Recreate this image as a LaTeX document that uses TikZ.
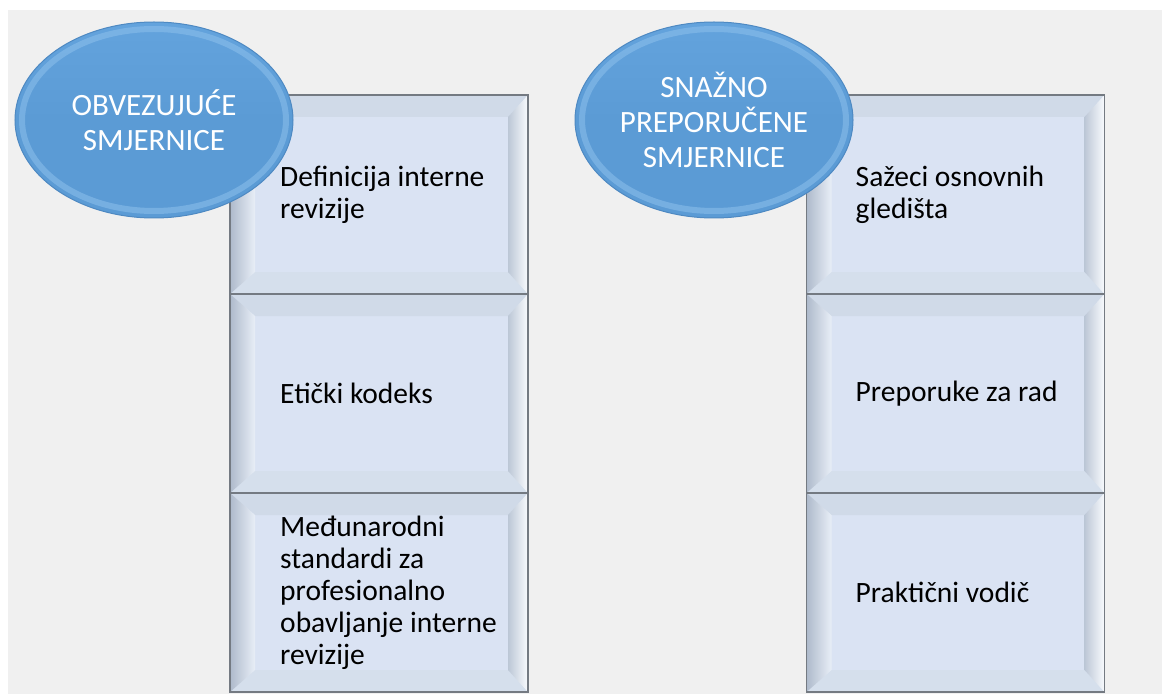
\documentclass[tikz,border=0pt]{standalone}
\usepackage{fontspec}
\setmainfont{Carlito}
\usepackage{xcolor}
\usepackage{tikz}
\usetikzlibrary{positioning}
\usetikzlibrary{shapes.geometric}
\definecolor{bgcolor}{HTML}{F0F0F0}
\definecolor{facecolor}{HTML}{DAE3F3}
\definecolor{boxline}{HTML}{747A82}
\definecolor{bevtop}{HTML}{D0DAE8}
\definecolor{bevbottom}{HTML}{D5DFEC}
\definecolor{bevleftout}{HTML}{AEBACB}
\definecolor{bevleftin}{HTML}{E8EEF7}
\definecolor{bevrightout}{HTML}{F9FBFE}
\definecolor{bevrightin}{HTML}{BCC7D6}
\definecolor{ovalfill}{HTML}{5B9BD5}
\definecolor{ovaltop}{HTML}{63A3DD}
\definecolor{ovalrim}{HTML}{8DC0EC}
\definecolor{ovalline}{HTML}{4E89C2}

\tikzset{
  bevelbox/.style={draw=boxline, line width=1.2pt, fill=facecolor,
    minimum width=298pt, minimum height=199pt, inner sep=0pt, outer sep=0pt,
    path picture={
      \coordinate (nw) at (path picture bounding box.north west);
      \coordinate (ne) at (path picture bounding box.north east);
      \coordinate (sw) at (path picture bounding box.south west);
      \coordinate (se) at (path picture bounding box.south east);
      \fill[bevtop] (nw) -- (ne) -- ([xshift=-20pt,yshift=-22pt]ne) -- ([xshift=25pt,yshift=-22pt]nw) -- cycle;
      \fill[bevbottom] (sw) -- (se) -- ([xshift=-20pt,yshift=22pt]se) -- ([xshift=25pt,yshift=22pt]sw) -- cycle;
      \shade[left color=bevleftout, right color=bevleftin] (nw) -- ([xshift=25pt,yshift=-22pt]nw) -- ([xshift=25pt,yshift=22pt]sw) -- (sw) -- cycle;
      \shade[left color=bevrightin, right color=bevrightout] (ne) -- ([xshift=-20pt,yshift=-22pt]ne) -- ([xshift=-20pt,yshift=22pt]se) -- (se) -- cycle;
    }},
  boxtext/.style={align=left, inner sep=0pt, text=black,
    font=\fontsize{29.5}{32}\selectfont},
  oval/.style={ellipse, draw=ovalline, line width=1pt,
    top color=ovaltop, bottom color=ovalfill, middle color=ovalfill,
    minimum width=278pt, minimum height=196pt, inner sep=0pt,
    align=center, text=white, font=\fontsize{31}{35}\selectfont,
    path picture={
      \draw[ovalrim, opacity=0.55, line width=6pt] (path picture bounding box.center) ellipse (132pt and 91pt);
    }}
}

\begin{document}
\begin{tikzpicture}[x=1pt,y=-1pt]
  \useasboundingbox (0,0) rectangle (1162,695);
  \fill[white] (0,0) rectangle (1162,695);
  \fill[bgcolor] (8,10) rectangle (1162,694);

  % left column
  \node[bevelbox] (d1) at (379,194.5) {};
  \node[bevelbox, below=0pt of d1] (d2) {};
  \node[bevelbox, below=0pt of d2] (d3) {};
  \node[boxtext, right=50pt of d1.west] (dt1) {Definicija interne\\revizije};
  \node[boxtext, right=50pt of d2.west] (dt2) {Etički kodeks};
  \node[boxtext, right=50pt of d3.west] (dt3) {Međunarodni\\standardi za\\profesionalno\\obavljanje interne\\revizije};
  \node[oval] (o1) at (154,120) {OBVEZUJUĆE\\SMJERNICE};

  % right column
  \node[bevelbox] (p1) at (955.5,194.5) {};
  \node[bevelbox, below=0pt of p1] (p2) {};
  \node[bevelbox, below=0pt of p2] (p3) {};
  \node[boxtext, right=49pt of p1.west] (pt1) {Sažeci osnovnih\\gledišta};
  \node[boxtext, right=49pt of p2.west] (pt2) {Preporuke za rad};
  \node[boxtext, right=49pt of p3.west] (pt3) {Praktični vodič};
  \node[oval] (o2) at (714,120) {SNAŽNO\\PREPORUČENE\\SMJERNICE};
\end{tikzpicture}
\end{document}
